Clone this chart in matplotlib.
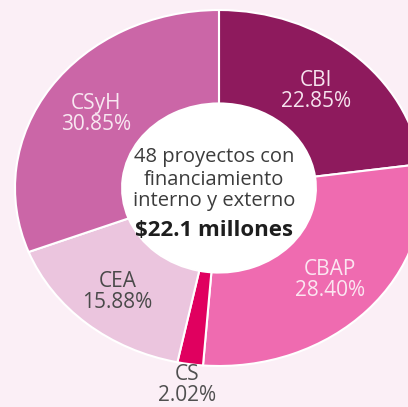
import matplotlib
matplotlib.use("Agg")
import matplotlib.pyplot as plt
from matplotlib.patches import Circle
import numpy as np

# slice data (clockwise from 12 o'clock)
names = ["CBI", "CBAP", "CS", "CEA", "CSyH"]
shares = [22.85, 28.40, 2.02, 15.88, 30.85]
colors = ["#8E1A5D", "#EF6BB0", "#E0005F", "#EBC5DE", "#CB66A7"]
label_colors = ["#F6E3EE", "#FBE6F1", "#505050", "#4A4A4A", "#F8E8F1"]
label_radius = [0.72, 0.75, 1.12, 0.77, 0.73]

center_lines = ["48 proyectos con", "financiamiento", "interno y externo"]
center_total = "$22.1 millones"

plt.rcParams["font.family"] = ["Open Sans", "DejaVu Sans"]

bg = "#FBEFF6"
fig = plt.figure(figsize=(4.08, 4.07), dpi=100, facecolor=bg)
ax = fig.add_axes([0, 0, 1, 1])
ax.set_facecolor(bg)

hole = 0.475
wedges, _ = ax.pie(shares, colors=colors, startangle=90, counterclock=False,
                   radius=1.0, wedgeprops=dict(width=1 - hole, edgecolor="white", linewidth=1.5))
# white centre disc
ax.add_patch(Circle((0, 0), hole, facecolor="white", edgecolor="none", zorder=0.5))

# the source image is stretched a bit horizontally and cropped right/bottom
ax.set_aspect("auto")
ax.set_xlim(-1.0735, 0.9265)
ax.set_ylim(-1.2303, 1.0562)
ax.axis("off")

angle = 90.0
for i in range(len(names)):
    span = shares[i] / sum(shares) * 360
    mid = np.deg2rad(angle - span / 2)
    angle -= span
    r = label_radius[i]
    ax.text(r * np.cos(mid), r * np.sin(mid), names[i] + "\n" + "%.2f%%" % shares[i],
            ha="center", va="center", fontsize=15, color=label_colors[i], linespacing=1.0)

ys = [0.174, 0.045, -0.073]
for line, y in zip(center_lines, ys):
    ax.text(-0.025, y, line, ha="center", va="center", fontsize=14.5, color="#3C3C3C")
ax.text(-0.025, -0.236, center_total, ha="center", va="center", fontsize=16,
        fontweight="bold", color="#1E1E1E")

fig.savefig("out.png", dpi=100, facecolor=bg)
